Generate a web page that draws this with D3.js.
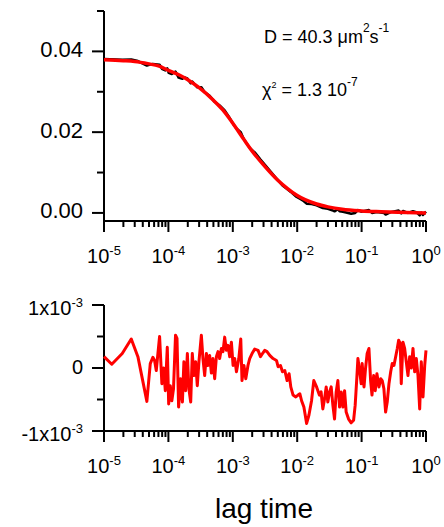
<!DOCTYPE html>
<html>
<head>
<meta charset="utf-8">
<script src="https://cdn.jsdelivr.net/npm/d3@7"></script>
<style>
  html, body { margin: 0; padding: 0; background: #fff; }
  svg { display: block; }
  svg text { font-family: "Liberation Sans", Arial, sans-serif; fill: #000; }
</style>
</head>
<body>
<svg id="chart" width="444" height="527"></svg>
<script>
// ---------------- data ----------------
// lag times (s) of the correlation curve and the fit residuals
const lagTimes = [
  1.00e-5, 1.32e-5, 1.92e-5, 2.65e-5, 3.36e-5, 4.63e-5, 5.23e-5, 5.74e-5, 6.10e-5, 6.48e-5,
  7.30e-5, 7.92e-5, 8.42e-5, 8.95e-5, 9.61e-5, 1.01e-4, 1.07e-4, 1.13e-4, 1.20e-4, 1.29e-4,
  1.36e-4, 1.44e-4, 1.55e-4, 1.65e-4, 1.74e-4, 1.85e-4, 1.97e-4, 2.08e-4, 2.22e-4, 2.35e-4,
  2.49e-4, 2.65e-4, 2.81e-4, 2.98e-4, 3.25e-4, 3.44e-4, 3.66e-4, 3.89e-4, 4.11e-4, 4.37e-4,
  4.65e-4, 4.92e-4, 5.23e-4, 5.56e-4, 5.89e-4, 6.25e-4, 6.65e-4, 7.04e-4, 7.48e-4, 7.95e-4,
  8.42e-4, 8.95e-4, 9.51e-4, 1.01e-3, 1.07e-3, 1.14e-3, 1.24e-3, 1.33e-3, 1.39e-3, 1.49e-3,
  1.59e-3, 1.72e-3, 1.83e-3, 1.99e-3, 2.19e-3, 2.47e-3, 2.69e-3, 2.89e-3, 3.13e-3, 3.40e-3,
  3.75e-3, 4.22e-3, 4.77e-3, 5.05e-3, 5.50e-3, 5.91e-3, 6.42e-3, 6.97e-3, 7.48e-3, 7.95e-3,
  8.63e-3, 9.51e-3, 1.03e-2, 1.10e-2, 1.17e-2, 1.27e-2, 1.40e-2, 1.52e-2, 1.67e-2, 1.81e-2,
  2.00e-2, 2.21e-2, 2.35e-2, 2.50e-2, 2.66e-2, 2.82e-2, 2.99e-2, 3.18e-2, 3.37e-2, 3.58e-2,
  3.80e-2, 4.03e-2, 4.28e-2, 4.55e-2, 4.82e-2, 5.12e-2, 5.44e-2, 5.76e-2, 6.28e-2, 6.89e-2,
  7.51e-2, 7.95e-2, 8.45e-2, 8.76e-2, 9.31e-2, 9.86e-2, 1.02e-1, 1.09e-1, 1.15e-1, 1.22e-1,
  1.30e-1, 1.38e-1, 1.45e-1, 1.54e-1, 1.63e-1, 1.73e-1, 1.86e-1, 1.98e-1, 2.09e-1, 2.22e-1,
  2.36e-1, 2.50e-1, 2.66e-1, 2.83e-1, 2.99e-1, 3.18e-1, 3.38e-1, 3.58e-1, 3.76e-1, 3.98e-1,
  4.13e-1, 4.39e-1, 4.66e-1, 4.94e-1, 5.25e-1, 5.58e-1, 5.91e-1, 6.28e-1, 6.67e-1, 7.07e-1,
  7.51e-1, 7.98e-1, 8.45e-1, 8.98e-1, 9.55e-1, 1.00
];

// fit residuals, in units of 1e-3
const residuals = [
  0.18, 0.06, 0.23, 0.46, 0.18, -0.53, 0.07, 0.17, 0.12, -0.04,
  0.50, -0.25, 0.00, -0.36, 0.33, -0.57, -0.28, -0.52, -0.33, 0.52,
  0.47, -0.62, -0.17, -0.54, 0.10, -0.36, 0.23, -0.33, -0.54, 0.23,
  -0.12, 0.10, -0.28, 0.10, 0.52, 0.15, -0.12, 0.23, 0.04, 0.20,
  -0.08, 0.15, -0.17, 0.18, 0.26, 0.15, 0.31, 0.26, 0.49, 0.28,
  0.36, 0.18, 0.41, 0.04, 0.15, -0.06, 0.15, 0.46, -0.20, 0.04,
  -0.17, 0.04, 0.15, 0.23, 0.30, 0.28, 0.18, 0.23, 0.28, 0.26,
  0.20, 0.15, 0.12, 0.02, 0.04, -0.06, -0.04, -0.20, -0.09, -0.30,
  -0.43, -0.46, -0.43, -0.41, -0.52, -0.62, -0.88, -0.75, -0.52, -0.20,
  -0.30, -0.43, -0.38, -0.65, -0.49, -0.30, -0.54, -0.38, -0.30, -0.59,
  -0.81, -0.38, -0.20, -0.62, -0.38, -0.62, -0.36, -0.70, -0.81, -0.87,
  -0.83, -0.59, -0.14, 0.15, -0.04, -0.25, 0.07, -0.30, -0.01, 0.23,
  0.31, -0.20, -0.43, -0.12, -0.36, -0.09, -0.30, -0.17, -0.20, -0.33,
  -0.70, -0.54, -0.25, -0.06, 0.07, 0.04, 0.18, 0.31, 0.44, 0.39,
  -0.25, 0.41, 0.31, 0.10, -0.12, 0.18, 0.00, 0.31, -0.06, 0.15,
  -0.12, -0.65, 0.10, -0.46, 0.04, 0.28
];

// measured autocorrelation G(tau)
const dataLag = [
  1.00e-5, 1.92e-5, 2.65e-5, 3.36e-5, 4.63e-5, 5.74e-5, 7.30e-5, 7.92e-5, 8.95e-5, 9.61e-5,
  1.01e-4, 1.13e-4, 1.29e-4, 1.44e-4, 1.65e-4, 1.74e-4, 1.97e-4, 2.22e-4, 2.35e-4, 2.81e-4,
  3.25e-4, 3.66e-4, 4.37e-4, 5.23e-4, 6.25e-4, 7.48e-4, 8.95e-4, 1.01e-3, 1.14e-3, 1.33e-3,
  1.49e-3, 1.83e-3, 2.19e-3, 2.69e-3, 3.13e-3, 3.75e-3, 4.77e-3, 5.91e-3, 6.97e-3, 7.95e-3,
  9.51e-3, 1.10e-2, 1.27e-2, 1.40e-2, 1.67e-2, 2.00e-2, 2.50e-2, 2.99e-2, 3.58e-2, 3.80e-2,
  4.28e-2, 4.55e-2, 5.12e-2, 5.76e-2, 6.89e-2, 7.95e-2, 8.76e-2, 9.86e-2, 1.30e-1, 1.45e-1,
  1.73e-1, 2.22e-1, 2.36e-1, 2.83e-1, 3.76e-1, 4.13e-1, 4.39e-1, 5.25e-1, 6.28e-1, 7.07e-1,
  7.98e-1, 8.45e-1, 8.98e-1, 1.00
];
const dataValues = [
  0.0381, 0.0379, 0.0380, 0.0376, 0.0365, 0.0369, 0.0367, 0.0357, 0.0353, 0.0358,
  0.0347, 0.0344, 0.0350, 0.0335, 0.0332, 0.0336, 0.0333, 0.0321, 0.0325, 0.0311,
  0.0311, 0.0299, 0.0290, 0.0275, 0.0266, 0.0254, 0.0235, 0.0221, 0.0209, 0.0200,
  0.0182, 0.0161, 0.0150, 0.0132, 0.0120, 0.0105, 0.0085, 0.0068, 0.0059, 0.0052,
  0.0041, 0.0035, 0.0029, 0.0023, 0.0022, 0.0019, 0.0012, 0.0010, 0.0006, 0.0004,
  0.0009, 0.0004, 0.0003, 0.0001, -0.0002, 0.0000, 0.0007, 0.0003, 0.0007, 0.0000,
  0.0002, 0.0000, -0.0004, 0.0002, 0.0006, -0.0001, 0.0005, 0.0000, 0.0004, 0.0002,
  -0.0006, 0.0001, -0.0005, 0.0003
];

// diffusion model fit
const fitLag = [
  1e-5, 2e-5, 3e-5, 5e-5, 7e-5, 1e-4, 1.5e-4, 2e-4, 3e-4, 5e-4, 7e-4,
  1e-3, 1.5e-3, 2e-3, 3e-3, 5e-3, 7e-3, 1e-2, 2e-2, 3e-2, 5e-2,
  1e-1, 2e-1, 5e-1, 1
];
const fitValues = [
  0.0379, 0.0377, 0.0375, 0.0369, 0.0364, 0.0353, 0.0341, 0.0330, 0.0310, 0.0279, 0.0255,
  0.0222, 0.0181, 0.0153, 0.0119, 0.0081, 0.0061, 0.0043, 0.0022, 0.0015, 0.0009,
  0.0005, 0.0003, 0.0001, 0.0000
];

// tick labels
const xTickBase = ["10", "10", "10", "10", "10", "10"];
const xTickExponents = ["-5", "-4", "-3", "-2", "-1", "0"];
const yTopTicks = [0.00, 0.02, 0.04];
const yTopMinorTicks = [0.01, 0.03, 0.05];
const yTopTickLabels = ["0.00", "0.02", "0.04"];
const yResTicks = [-1, 0, 1];
const yResMinorTicks = [-0.5, 0.5];
const yResTickBase = ["-1x10", "0", "1x10"];
const yResTickExponents = ["-3", "", "-3"];
const xTitle = "lag time";

// ---------------- layout ----------------
const svg = d3.select("#chart");
const X0 = 104, X1 = 426;
const TOP_AXIS_Y = 221, RES_AXIS_Y = 431;

const x = d3.scaleLog().domain([1e-5, 1]).range([X0, X1]);
const yTop = d3.scaleLinear().domain([-0.002, 0.05]).range([TOP_AXIS_Y, 11]);
const yRes = d3.scaleLinear().domain([-1, 1]).range([RES_AXIS_Y, 305]);

function styleAxis(g) {
  g.selectAll("line, path").attr("stroke", "#000").attr("stroke-width", 2);
  g.selectAll(".tick text").remove();
}

function drawXAxis(yPos) {
  const all = x.ticks();
  const isMajor = v => Math.abs(Math.log10(v) - Math.round(Math.log10(v))) < 1e-9;
  const major = all.filter(isMajor);
  const minor = all.filter(v => !isMajor(v));

  const gMinor = svg.append("g").attr("transform", `translate(0,${yPos})`)
    .call(d3.axisBottom(x).tickValues(minor).tickSize(6).tickSizeOuter(0).tickFormat("").offset(0));
  gMinor.select(".domain").remove();
  styleAxis(gMinor);

  const gMajor = svg.append("g").attr("transform", `translate(0,${yPos})`)
    .call(d3.axisBottom(x).tickValues(major).tickSize(11).tickSizeOuter(0).tickFormat("").offset(0));
  styleAxis(gMajor);
  gMajor.selectAll(".tick").each(function (d, i) {
    const t = d3.select(this).append("text")
      .attr("y", 41.5).attr("text-anchor", "middle").attr("font-size", 20);
    t.append("tspan").text(xTickBase[i]);
    t.append("tspan").attr("font-size", 13).attr("dy", -7.4).text(xTickExponents[i]);
  });
}

function drawYAxis(scale, major, minor, labeler) {
  const gMinor = svg.append("g").attr("transform", `translate(${X0},0)`)
    .call(d3.axisLeft(scale).tickValues(minor).tickSize(7).tickSizeOuter(0).tickFormat("").offset(0));
  gMinor.select(".domain").remove();
  styleAxis(gMinor);

  const gMajor = svg.append("g").attr("transform", `translate(${X0},0)`)
    .call(d3.axisLeft(scale).tickValues(major).tickSize(12).tickSizeOuter(0).tickFormat("").offset(0));
  styleAxis(gMajor);
  gMajor.selectAll(".tick").each(function (d, i) { labeler(d3.select(this), i); });
}

// ---------------- top panel: correlation curve ----------------
drawYAxis(yTop, yTopTicks, yTopMinorTicks, (tick, i) => {
  tick.append("text").attr("x", -21).attr("y", 5.5)
    .attr("text-anchor", "end").attr("font-size", 22).text(yTopTickLabels[i]);
});
drawXAxis(TOP_AXIS_Y);

const dataLine = d3.line()
  .x((d, i) => x(dataLag[i]))
  .y(d => yTop(d));
svg.append("path").datum(dataValues)
  .attr("d", dataLine)
  .attr("fill", "none").attr("stroke", "#000").attr("stroke-width", 2.5)
  .attr("stroke-linejoin", "round");

const fitLine = d3.line()
  .x((d, i) => x(fitLag[i]))
  .y(d => yTop(d))
  .curve(d3.curveMonotoneX);
svg.append("path").datum(fitValues)
  .attr("d", fitLine)
  .attr("fill", "none").attr("stroke", "#ff0000").attr("stroke-width", 3.5)
  .attr("stroke-linejoin", "round");

// fit parameters
const dText = svg.append("text").attr("x", 264).attr("y", 42.7).attr("font-size", 18);
dText.append("tspan").text("D = 40.3 \u03bcm");
dText.append("tspan").attr("font-size", 12).attr("dy", -11).text("2");
dText.append("tspan").attr("dy", 11).text("s");
dText.append("tspan").attr("font-size", 12).attr("dy", -11).text("-1");

const chiText = svg.append("text").attr("x", 262).attr("y", 96).attr("font-size", 18);
chiText.append("tspan").text("\u03c7");
chiText.append("tspan").attr("font-size", 9).attr("dy", -8).text("2");
chiText.append("tspan").attr("dy", 8).text(" = 1.3 10");
chiText.append("tspan").attr("font-size", 12).attr("dy", -10).text("-7");

// ---------------- bottom panel: residuals ----------------
drawYAxis(yRes, yResTicks, yResMinorTicks, (tick, i) => {
  const t = tick.append("text").attr("x", -21)
    .attr("y", yResTickExponents[i] ? 9.5 : 6)
    .attr("text-anchor", "end").attr("font-size", 20);
  t.append("tspan").text(yResTickBase[i]);
  if (yResTickExponents[i]) {
    t.append("tspan").attr("font-size", 13).attr("dy", -8).text(yResTickExponents[i]);
  }
});
drawXAxis(RES_AXIS_Y);

const resLine = d3.line()
  .x((d, i) => x(lagTimes[i]))
  .y(d => yRes(d));
svg.append("path").datum(residuals)
  .attr("d", resLine)
  .attr("fill", "none").attr("stroke", "#ff0000").attr("stroke-width", 3)
  .attr("stroke-linejoin", "round");

svg.append("text")
  .attr("x", 264).attr("y", 518)
  .attr("text-anchor", "middle").attr("font-size", 28)
  .text(xTitle);
</script>
</body>
</html>
